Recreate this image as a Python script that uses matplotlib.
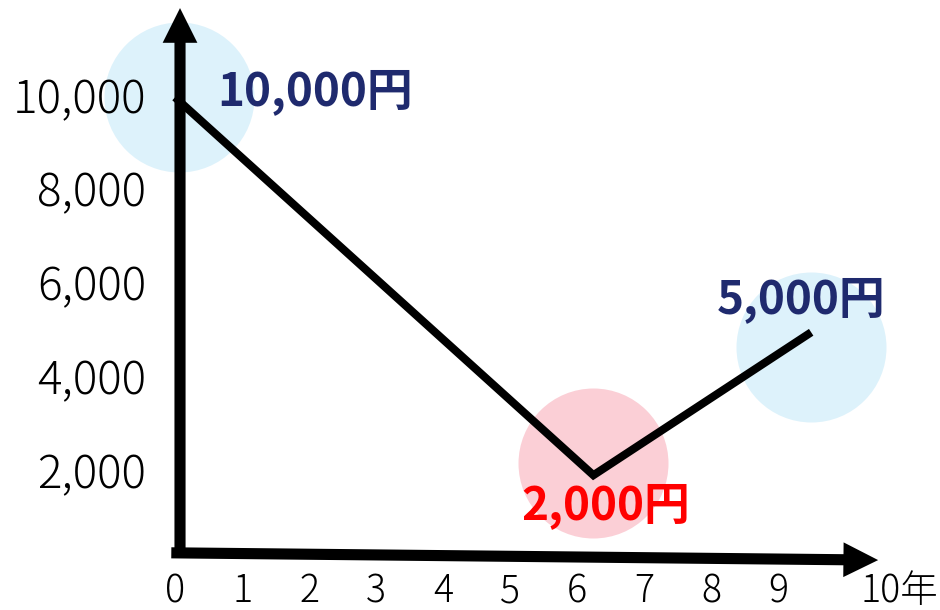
### Import Libraries -------------------------------------------------------

import matplotlib.pyplot as plt
from matplotlib.transforms import offset_copy

plt.rcParams["font.family"] = ["Noto Sans CJK JP", "DejaVu Sans"]

### Data ---------------------------------------------------------------------

years = [0, 6.2, 9.4]
prices = [10000, 2000, 5000]
price_labels = ["10,000円", "2,000円", "5,000円"]
label_colors = ["#1f2a6e", "#ff0000", "#1f2a6e"]
circle_colors = ["#ddf2fb", "#fbcfd6", "#ddf2fb"]

y_ticks = [10000, 8000, 6000, 4000, 2000]
y_tick_labels = ["10,000", "8,000", "6,000", "4,000", "2,000"]
x_ticks = [0, 1, 2, 3, 4, 5, 6, 7, 8, 9]
x_tick_labels = ["0", "1", "2", "3", "4", "5", "6", "7", "8", "9"]

### Figure -------------------------------------------------------------------

fig = plt.figure(figsize=(9.4, 6.1), dpi=100)
ax = fig.add_axes([0, 0, 1, 1])
ax.set_xlim(-178 / 67, (940 - 178) / 67)
ax.set_ylim(10000 - 510 / 46.9 * 1000, 10000 + 100 / 46.9 * 1000)
ax.axis("off")

# highlight circles (hand placed, a bit off the points)
circle_shift = [(1, 2), (0, 9), (2, -9)]
for x, v, col, (dx, dy) in zip(years, prices, circle_colors, circle_shift):
    tr = offset_copy(ax.transData, fig=fig, x=dx, y=dy, units="points")
    ax.scatter([x], [v], s=108**2, c=[col], linewidths=0, zorder=1, transform=tr)

# price line
ax.plot(years, prices, color="black", lw=5.8, solid_joinstyle="miter", zorder=3)

# axes arrows
arrow = dict(
    arrowstyle="simple,head_length=1.0,head_width=1.0,tail_width=0.32",
    color="black",
    lw=0,
    mutation_scale=25,
    shrinkA=0,
    shrinkB=0,
)
ax.annotate("", xy=(0.03, 11960), xytext=(0.03, 280), arrowprops=arrow, zorder=4)
ax.annotate("", xy=(10.45, 190), xytext=(-0.1, 345), arrowprops=arrow, zorder=4)

# y tick labels
for v, lab in zip(y_ticks, y_tick_labels):
    ax.annotate(lab, xy=(0, v), xytext=(-23, 0), textcoords="offset points",
                ha="right", va="center", fontsize=33, fontweight="light")

# x tick labels
for x, lab in zip(x_ticks, x_tick_labels):
    ax.annotate(lab, xy=(x, 0), xytext=(-2, -24), textcoords="offset points",
                ha="center", va="baseline", fontsize=27, fontweight="light")
ax.annotate("10年", xy=(10, 0), xytext=(37, -24), textcoords="offset points",
            ha="center", va="baseline", fontsize=27, fontweight="light")

# price labels
offsets = [(28, 6), (9, -22), (-5, 25)]
aligns = ["left", "center", "center"]
for x, v, lab, col, off, ha in zip(years, prices, price_labels, label_colors, offsets, aligns):
    ax.annotate(lab, xy=(x, v), xytext=off, textcoords="offset points",
                ha=ha, va="center", fontsize=33, fontweight="bold", color=col, zorder=5)

fig.savefig("out.png", dpi=100)
